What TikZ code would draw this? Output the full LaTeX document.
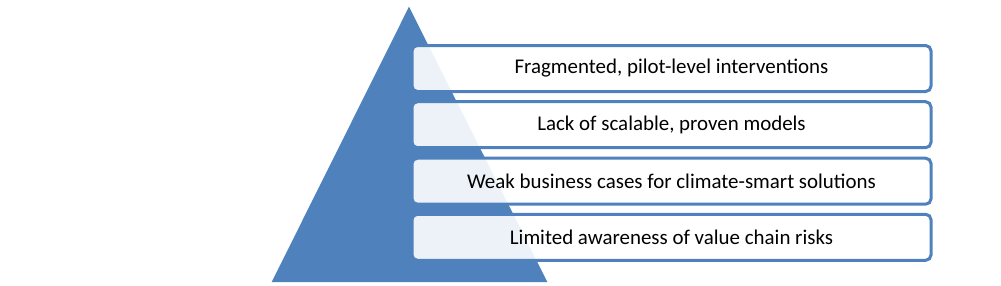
\documentclass[tikz,border=0pt]{standalone}
\usepackage{fontspec}
\setmainfont{Carlito}
\definecolor{pyrblue}{HTML}{4F81BD}
\tikzset{
  level/.style={draw=pyrblue, line width=2.25pt, rounded corners=4pt, fill=white, fill opacity=0.9, text opacity=1,
    minimum width=519*0.75pt, minimum height=46*0.75pt, inner sep=0pt, font=\fontsize{15.7}{18}\selectfont, text=black},
}
\begin{document}
\begin{tikzpicture}[x=0.75pt,y=-0.75pt]
\useasboundingbox (0,0) rectangle (1001,286);
\fill[pyrblue] (409,6.7) coordinate (apex) -- (271.7,282) coordinate (bl) -- (547.3,282) coordinate (br) -- cycle;
\node[level] (l1) at (671.5,68.5) {Fragmented, pilot-level interventions};
\node[level] (l2) at (671.5,124.7) {Lack of scalable, proven models};
\node[level] (l3) at (671.5,181.2) {Weak business cases for climate-smart solutions};
\node[level] (l4) at (671.5,237.3) {Limited awareness of value chain risks};
\end{tikzpicture}
\end{document}
